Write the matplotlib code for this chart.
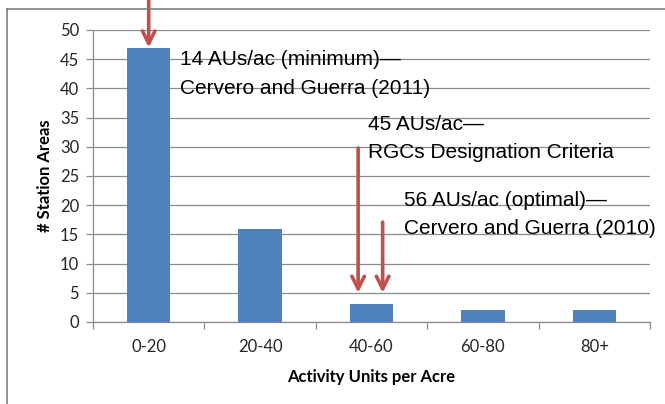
import numpy as np
import matplotlib
matplotlib.use("Agg")
import matplotlib.pyplot as plt
from matplotlib.lines import Line2D

categories = ["0-20", "20-40", "40-60", "60-80", "80+"]
station_areas = [47, 16, 3, 2, 2]

# annotations: (text, text x, baseline y of first line) in data coords
notes = [
    ("14 AUs/ac (minimum)—\nCervero and Guerra (2011)", 0.278, 44.0),
    ("45 AUs/ac—\nRGCs Designation Criteria", 1.966, 32.9),
    ("56 AUs/ac (optimal)—\nCervero and Guerra (2010)", 2.289, 19.9),
]
line_step = 4.9  # distance between text baselines, data units
# arrows: (x, y_start, y_tip)
arrows = [(0.0, 55.2, 47.0), (1.88, 29.8, 5.0), (2.10, 17.1, 5.0)]

bar_color = "#4F81BD"
arrow_color = "#C0504D"
grid_color = "#8C8C8C"

fig = plt.figure(figsize=(6.65, 4.04), dpi=100)
ax = fig.add_axes([93 / 665, 82 / 404, 557 / 665, 292 / 404])

x = np.arange(len(categories))
ax.bar(x, station_areas, width=0.39, color=bar_color, zorder=3)

ax.set_xlim(-0.5, len(categories) - 0.5)
ax.set_ylim(0, 50)
ax.set_yticks(np.arange(0, 51, 5))
ax.yaxis.grid(True, color=grid_color, linewidth=0.9, zorder=0)
ax.set_axisbelow(True)

ax.set_xticks(x)
ax.set_xticklabels(categories)
ax.set_xticks(np.arange(-0.5, len(categories)), minor=True)
ax.tick_params(axis="x", which="major", length=0, pad=12)
ax.tick_params(axis="x", which="minor", length=5, color=grid_color, width=0.9)
ax.tick_params(axis="y", length=5, color=grid_color, width=0.9, pad=5)
for lab in ax.get_xticklabels() + ax.get_yticklabels():
    lab.set_fontfamily("Lato")
    lab.set_fontsize(12)
    lab.set_color("#262626")

for side in ["top", "right"]:
    ax.spines[side].set_visible(False)
for side in ["left", "bottom"]:
    ax.spines[side].set_color(grid_color)
    ax.spines[side].set_linewidth(0.9)

ax.set_ylabel("# Station Areas", fontfamily="Lato", fontweight="bold", fontsize=12, labelpad=5)
ax.set_xlabel("Activity Units per Acre", fontfamily="Lato", fontweight="bold", fontsize=12, labelpad=10)

for txt, tx, ty in notes:
    for i, line in enumerate(txt.split("\n")):
        ax.text(tx, ty - i * line_step, line, fontfamily="Liberation Sans", fontsize=15,
                va="baseline", ha="left", color="#000000", zorder=5)

for ax_x, y0, y1 in arrows:
    ax.annotate("", xy=(ax_x, y1), xytext=(ax_x, y0), annotation_clip=False,
                arrowprops=dict(arrowstyle="->,head_length=0.9,head_width=0.45",
                                color=arrow_color, lw=2.6, shrinkA=0, shrinkB=0),
                zorder=6)

# outer frame of the chart box
fig.add_artist(Line2D([7 / 665, 7 / 665], [0, 1 - 9 / 404], transform=fig.transFigure,
                      color="#7F7F7F", linewidth=1.2))
fig.add_artist(Line2D([7 / 665, 1], [1 - 9 / 404, 1 - 9 / 404], transform=fig.transFigure,
                      color="#7F7F7F", linewidth=1.2))

fig.savefig("out.png", dpi=100)
